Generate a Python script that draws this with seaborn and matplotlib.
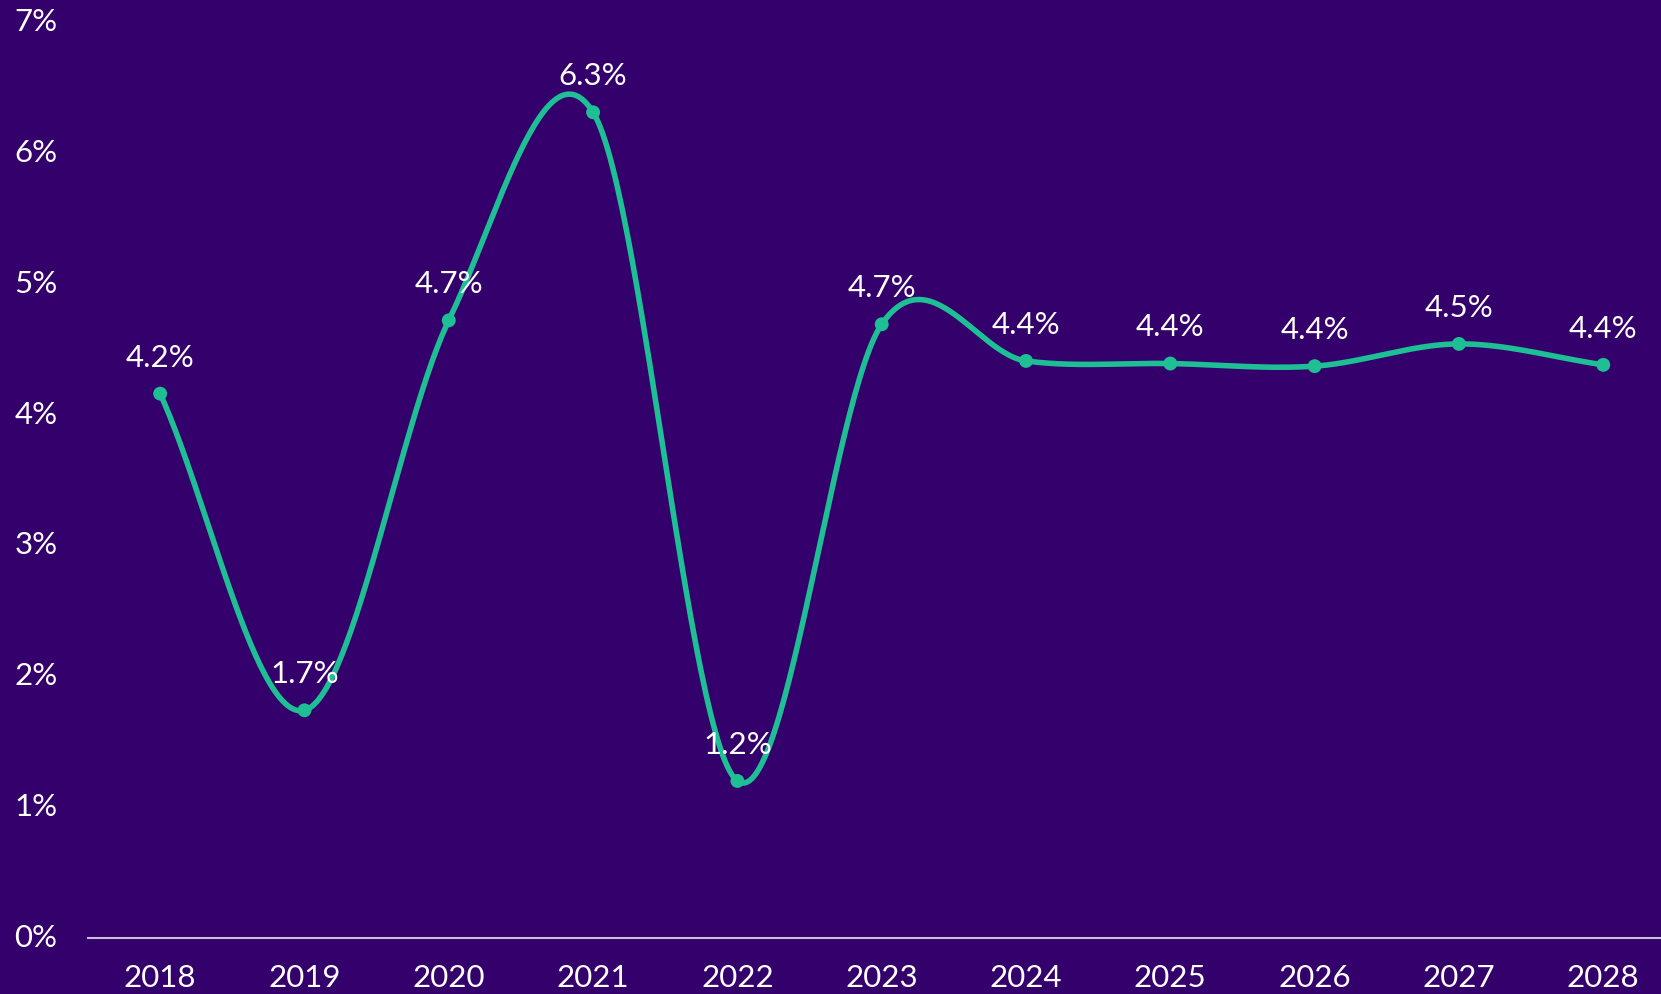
import numpy as np
import pandas as pd
import matplotlib
matplotlib.use("Agg")
import matplotlib.pyplot as plt
import seaborn as sns

years = ["2018", "2019", "2020", "2021", "2022", "2023", "2024", "2025", "2026", "2027", "2028"]
growth = [4.16, 1.74, 4.72, 6.31, 1.20, 4.69, 4.41, 4.39, 4.37, 4.54, 4.38]
labels = ["4.2%", "1.7%", "4.7%", "6.3%", "1.2%", "4.7%", "4.4%", "4.4%", "4.4%", "4.5%", "4.4%"]
yticks = [0, 1, 2, 3, 4, 5, 6, 7]
ytick_labels = ["0%", "1%", "2%", "3%", "4%", "5%", "6%", "7%"]

BG = "#34006b"
LINE = "#1fbf95"

sns.set_theme(style="white")
plt.rcParams["font.family"] = ["Lato", "DejaVu Sans"]

df = pd.DataFrame({"x": np.arange(len(years)), "y": growth})

fig = plt.figure(figsize=(16.61, 9.94), dpi=100, facecolor=BG)
ax = fig.add_axes([88 / 1661, (994 - 938) / 994, 1 - 88 / 1661, (938 - 22) / 994])
ax.set_facecolor(BG)

# Catmull-Rom smoothing of the line (rendering only)
x = df["x"].to_numpy(float)
y = df["y"].to_numpy(float)
n = len(x)
m = np.zeros(n)
m[1:-1] = (y[2:] - y[:-2]) / 2.0
m[0] = (y[1] - y[0])
m[-1] = (y[-1] - y[-2])
xs, ys = [], []
for i in range(n - 1):
    t = np.linspace(0, 1, 60)
    h00 = 2 * t**3 - 3 * t**2 + 1
    h10 = t**3 - 2 * t**2 + t
    h01 = -2 * t**3 + 3 * t**2
    h11 = t**3 - t**2
    xs.append(x[i] + t * (x[i + 1] - x[i]))
    ys.append(h00 * y[i] + h10 * m[i] + h01 * y[i + 1] + h11 * m[i + 1])
xs = np.concatenate(xs)
ys = np.concatenate(ys)
sns.lineplot(x=xs, y=ys, ax=ax, color=LINE, linewidth=4.0, sort=False, estimator=None)
sns.scatterplot(data=df, x="x", y="y", ax=ax, color=LINE, s=100, edgecolor="none", zorder=5)

for xi, yi, lab in zip(x, y, labels):
    ax.annotate(lab, (xi, yi), xytext=(0, 26), textcoords="offset points",
                ha="center", va="center", color="white", fontsize=22.5)

ax.set_xlim(-0.5, 10.4)
ax.set_ylim(0, 7)
ax.set_xticks(x)
ax.set_xticklabels(years)
ax.set_yticks(yticks)
ax.set_yticklabels(ytick_labels)
ax.tick_params(axis="both", colors="white", labelsize=22.5, length=0)
ax.tick_params(axis="x", pad=19)
ax.tick_params(axis="y", pad=22)
for lab in ax.get_yticklabels():
    lab.set_verticalalignment("center")
ax.set_xlabel("")
ax.set_ylabel("")
for side in ["top", "right", "left"]:
    ax.spines[side].set_visible(False)
ax.spines["bottom"].set_color("#c8bfdc")
ax.spines["bottom"].set_linewidth(1.5)
ax.grid(False)

fig.savefig("out.png", dpi=100, facecolor=BG)
